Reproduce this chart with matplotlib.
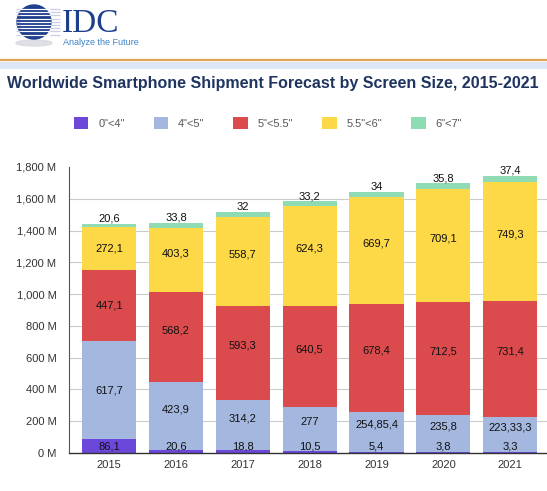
import numpy as np
import matplotlib.pyplot as plt
from matplotlib.patches import Circle, Ellipse, Rectangle
from matplotlib.ticker import FuncFormatter

plt.rcParams['font.family'] = ['Liberation Sans', 'DejaVu Sans']

years = ['2015', '2016', '2017', '2018', '2019', '2020', '2021']
series_names = ['0"<4"', '4"<5"', '5"<5.5"', '5.5"<6"', '6"<7"']
colors = ['#6C48DA', '#A3B7DF', '#DB4A4C', '#FDD847', '#8FDCB4']

size_0_4 = [86.1, 20.6, 18.8, 10.5, 5.4, 3.8, 3.3]
size_4_5 = [617.7, 423.9, 314.2, 277, 254.8, 235.8, 223.3]
size_5_55 = [447.1, 568.2, 593.3, 640.5, 678.4, 712.5, 731.4]
size_55_6 = [272.1, 403.3, 558.7, 624.3, 669.7, 709.1, 749.3]
size_6_7 = [20.6, 33.8, 32, 33.2, 34, 35.8, 37.4]

# labels as printed on the picture (two of them are run together there)
labels_4_5 = ['617,7', '423,9', '314,2', '277', '254,85,4', '235,8', '223,33,3']

series = [size_0_4, size_4_5, size_5_55, size_55_6, size_6_7]


def fmt(v):
    s = ('%.1f' % v).rstrip('0').rstrip('.')
    return s.replace('.', ',')


fig = plt.figure(figsize=(5.47, 4.91), dpi=100)

# header: logo, rule lines, title
bg = fig.add_axes([0, 0, 1, 1], zorder=-1)
bg.set_xlim(0, 547)
bg.set_ylim(491, 0)
bg.axis('off')

bg.add_patch(Ellipse((34, 43), 36, 6, color='#d8d8e0', alpha=0.8))
bg.add_patch(Circle((34, 22), 17, color='#1E3F8C'))
for yy in np.arange(9, 37, 3.2):
    bg.plot([16, 60], [yy, yy], color='#c9cde6', lw=0.9, solid_capstyle='butt')
    bg.plot([20, 50], [yy, yy], color='white', lw=0.7, solid_capstyle='butt')
bg.text(62, 32, 'IDC', family='Liberation Serif', fontsize=24, color='#1E3F8C',
        va='baseline', ha='left')
bg.text(63, 44.5, 'Analyze the Future', fontsize=6.5, color='#3C82C8',
        va='baseline', ha='left')
bg.plot([0, 547], [60, 60], color='#E2A455', lw=1.6)
bg.add_patch(Rectangle((0, 61.5), 547, 7.5, color='#DCE6F4', lw=0))
bg.text(273, 88, 'Worldwide Smartphone Shipment Forecast by Screen Size, 2015-2021',
        ha='center', va='baseline', fontsize=11.5, fontweight='bold', color='#1F3560')

ax = fig.add_axes([69 / 547, 38 / 491, 478 / 547, 286 / 491])
x = np.arange(len(years))
bottom = np.zeros(len(years))
handles = []
for vals, name, col in zip(series, series_names, colors):
    vals = np.array(vals, dtype=float)
    b = ax.bar(x, vals, 0.81, bottom=bottom, color=col, label=name, zorder=2)
    handles.append(b)
    bottom += vals

# data labels
tops = np.zeros(len(years))
for i, vals in enumerate(series):
    for j, v in enumerate(vals):
        if i == 0:
            txt = fmt(v)
            y = max(v / 2, 38)
            dy = 0
        elif i == 4:
            txt = fmt(v)
            y = tops[j] + v
            dy = 5
        else:
            txt = labels_4_5[j] if i == 1 else fmt(v)
            y = tops[j] + v / 2
            dy = 0 if j == 0 else 7
        ax.annotate(txt, (x[j], y), xytext=(0, dy), textcoords='offset pixels',
                    ha='center', va='center', fontsize=8, color='#111111', zorder=3)
    tops += np.array(vals)

ax.set_xlim(-0.6, 6.55)
ax.set_ylim(0, 1800)
ax.set_yticks(np.arange(0, 1801, 200))
ax.yaxis.set_major_formatter(FuncFormatter(lambda v, p: '{:,.0f} M'.format(v)))
ax.set_xticks(x)
ax.set_xticklabels(years)
ax.tick_params(length=0, labelsize=8, colors='#333333')
ax.tick_params(axis='y', pad=9)
ax.tick_params(axis='x', pad=5)
for yv in range(200, 1700, 200):
    ax.axhline(yv, color='#cccccc', lw=0.8, zorder=1)
for s in ['top', 'right']:
    ax.spines[s].set_visible(False)
ax.spines['left'].set_color('#555555')
ax.spines['bottom'].set_color('#333333')
ax.spines['left'].set_linewidth(0.8)
ax.spines['bottom'].set_linewidth(1.0)

fig.legend(handles=handles, labels=series_names, loc='center', ncol=5,
           bbox_to_anchor=(268 / 547, 1 - 123 / 491), frameon=False,
           fontsize=8, labelcolor='#555555', handlelength=1.3, handleheight=1.3,
           handletextpad=0.9, columnspacing=2.6)

fig.savefig('out.png', dpi=100)
